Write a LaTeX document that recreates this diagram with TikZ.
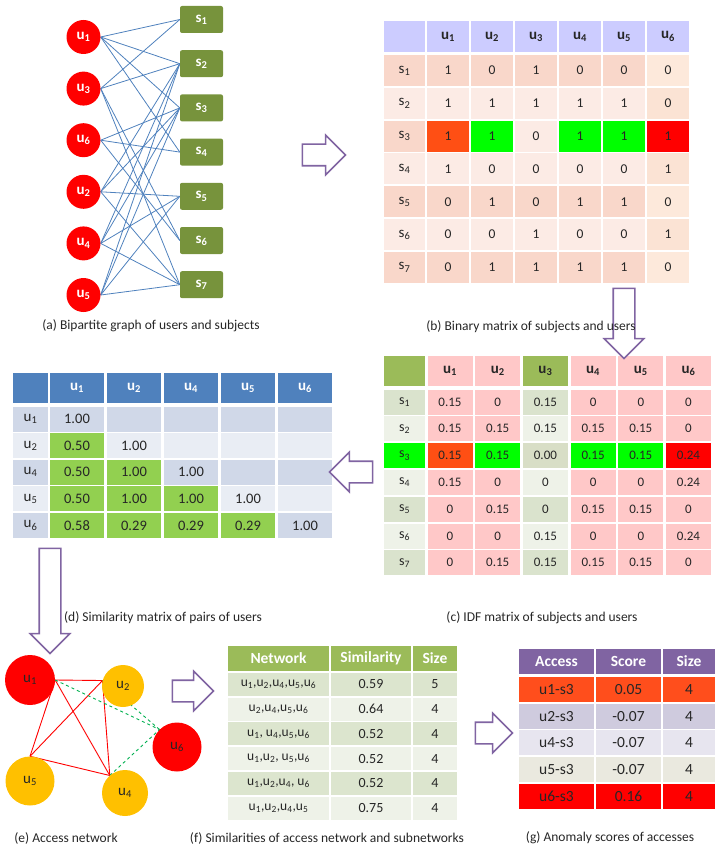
\documentclass[tikz,border=0pt]{standalone}
\usepackage{fontspec}
\setmainfont{Carlito}
\usepackage{xcolor}
\usepackage{tikz}
\usetikzlibrary{positioning, arrows.meta, shapes.arrows, backgrounds}
\definecolor{ink}{HTML}{262626}
\definecolor{ured}{HTML}{FF0000}
\definecolor{uorange}{HTML}{FFC000}
\definecolor{sgreen}{HTML}{77933C}
\definecolor{edgeblue}{HTML}{4F81BD}
\definecolor{dashgreen}{HTML}{00B050}
\definecolor{arrowpurple}{HTML}{8064A2}
\definecolor{binhead}{HTML}{CCCCFF}
\definecolor{binodd}{HTML}{F9D7CA}
\definecolor{bineven}{HTML}{FCEBE5}
\definecolor{binlastodd}{HTML}{FDE9DB}
\definecolor{binlasteven}{HTML}{FBE3D4}
\definecolor{hitorange}{HTML}{FF4F14}
\definecolor{hitgreen}{HTML}{00FF00}
\definecolor{hitred}{HTML}{FF0000}
\definecolor{idfpink}{HTML}{FFC8C8}
\definecolor{idfolive}{HTML}{9BBB59}
\definecolor{idfodd}{HTML}{DAE3CD}
\definecolor{idfeven}{HTML}{EEF2E8}
\definecolor{idfmid}{HTML}{D8DEC6}
\definecolor{simhead}{HTML}{4F81BD}
\definecolor{simodd}{HTML}{D0D8E8}
\definecolor{simeven}{HTML}{E9EDF4}
\definecolor{simgreen}{HTML}{92D050}
\definecolor{nethead}{HTML}{9BBB59}
\definecolor{netodd}{HTML}{DCE5CE}
\definecolor{neteven}{HTML}{EEF2E8}
\definecolor{acchead}{HTML}{8064A2}
\definecolor{accfirst}{HTML}{FF4E1C}
\definecolor{accsecond}{HTML}{CFCBDE}
\definecolor{accthird}{HTML}{E7E5EF}
\definecolor{accfourth}{HTML}{EAE9DF}
\definecolor{acclast}{HTML}{FF0000}
\newcommand{\usub}[1]{u\textsubscript{#1}}
\newcommand{\ssub}[1]{s\textsubscript{#1}}
\tikzset{
  user/.style     = {circle, fill=ured, text=white, minimum size=34pt, inner sep=0pt,
                     font=\fontsize{15}{15}\selectfont\bfseries},
  subj/.style     = {rectangle, rounded corners=2pt, fill=sgreen, text=white,
                     minimum width=43pt, minimum height=27pt, inner sep=0pt,
                     font=\fontsize{15}{15}\selectfont\bfseries},
  link/.style     = {draw=edgeblue, line width=0.8pt},
  tcell/.style    = {rectangle, inner sep=0pt, text=ink},
  bcell/.style    = {tcell, minimum width=42pt, minimum height=31pt, font=\fontsize{13.5}{13.5}\selectfont},
  bhead/.style    = {bcell, fill=binhead, font=\fontsize{15}{15}\selectfont\bfseries},
  ccell/.style    = {tcell, minimum width=45pt, minimum height=25pt, font=\fontsize{13}{13}\selectfont},
  chead/.style    = {ccell, minimum height=30pt, font=\fontsize{15}{15}\selectfont\bfseries},
  dcell/.style    = {tcell, minimum width=54pt, minimum height=25pt, font=\fontsize{14.5}{14.5}\selectfont},
  dhead/.style    = {dcell, fill=simhead, minimum height=30pt, text=white,
                     font=\fontsize{15}{15}\selectfont\bfseries},
  fcell/.style    = {tcell, minimum height=23pt, font=\fontsize{14}{14}\selectfont},
  fhead/.style    = {fcell, fill=nethead, minimum height=25pt, text=white,
                     font=\fontsize{15.5}{15.5}\selectfont\bfseries},
  gcell/.style    = {tcell, minimum height=25pt, font=\fontsize{15.5}{15.5}\selectfont},
  ghead/.style    = {gcell, fill=acchead, text=white, font=\fontsize{15.5}{15.5}\selectfont\bfseries},
  netnode/.style  = {circle, inner sep=0pt, text=ink, font=\fontsize{15}{15}\selectfont},
  rededge/.style  = {draw=ured, line width=0.9pt},
  dashedge/.style = {draw=dashgreen, line width=0.9pt, dashed},
  bigarrow/.style = {single arrow, draw=arrowpurple, line width=1.6pt, fill=white,
                     text height=20pt, text depth=0pt, minimum width=38pt,
                     single arrow head extend=9pt, inner sep=0pt},
  caption/.style  = {text=ink, font=\fontsize{13.5}{14}\selectfont},
}

\begin{document}
\begin{tikzpicture}[x=1pt, y=-1pt]
  \useasboundingbox (0,0) rectangle (721,861);

  % (a) users and subjects
  \foreach \u [count=\i] in {1,3,6,2,4,5}
    \node[user] (u\u) at (83.5,{37+51.6*(\i-1)}) {\usub{\u}};
  \foreach \s in {1,...,7}
    \node[subj] (s\s) at (201.5,{19.5+44.2*(\s-1)}) {\ssub{\s}};
  \begin{scope}[on background layer]
    \foreach \a/\b in {1/1,1/2,1/3,1/4,3/1,3/2,3/6,3/7,6/3,6/4,6/6,2/2,2/3,2/5,2/7,
                       4/2,4/3,4/5,4/7,5/2,5/3,5/5,5/7}
      \draw[link] (u\a.east) -- (s\b.west);
  \end{scope}
  \node[caption] (capA) at (151,326) {(a) Bipartite graph of users and subjects};

  % (b) binary matrix
  \node[bhead, minimum width=41pt] (b-0-0) at (404.5,36.5) {};
  \foreach \c in {1,...,6}
    \node[bhead] (b-0-\c) at ({448+44*(\c-1)},36.5) {\usub{\c}};
  \foreach \r/\lf/\vals in {
      1/binodd/{1/binodd,0/binodd,1/binodd,0/binodd,0/binodd,0/binlastodd},
      2/bineven/{1/bineven,1/bineven,1/bineven,1/bineven,1/bineven,0/binlasteven},
      3/binodd/{1/hitorange,1/hitgreen,0/bineven,1/hitgreen,1/hitgreen,1/hitred},
      4/bineven/{1/bineven,0/bineven,0/bineven,0/bineven,0/bineven,1/binlasteven},
      5/binodd/{0/binodd,1/binodd,0/binodd,1/binodd,1/binodd,0/binlastodd},
      6/bineven/{0/bineven,0/bineven,1/bineven,0/bineven,0/bineven,1/binlasteven},
      7/binodd/{0/binodd,1/binodd,1/binodd,1/binodd,1/binodd,0/binlastodd}}{
    \node[bcell, minimum width=41pt, fill=\lf, font=\fontsize{15}{15}\selectfont]
      (b-\r-0) at (404.5,{70.5+32.8*(\r-1)}) {\ssub{\r}};
    \foreach \v/\f [count=\c] in \vals
      \node[bcell, fill=\f] (b-\r-\c) at ({448+44*(\c-1)},{70.5+32.8*(\r-1)}) {\v};
  }

  % (c) idf matrix
  \node[chead, minimum width=41pt, fill=idfolive] (c-0-0) at (404.5,371) {};
  \foreach \c/\f in {1/idfpink,2/idfpink,3/idfolive,4/idfpink,5/idfpink,6/idfpink}
    \node[chead, fill=\f] (c-0-\c) at ({450+47.7*(\c-1)},371) {\usub{\c}};
  \foreach \r/\lf/\vals in {
      1/idfodd/{0.15/idfpink,0/idfpink,0.15/idfodd,0/idfpink,0/idfpink,0/idfpink},
      2/idfeven/{0.15/idfpink,0.15/idfpink,0.15/idfeven,0.15/idfpink,0.15/idfpink,0/idfpink},
      3/hitgreen/{0.15/hitorange,0.15/hitgreen,0.00/idfmid,0.15/hitgreen,0.15/hitgreen,0.24/hitred},
      4/idfeven/{0.15/idfpink,0/idfpink,0/idfeven,0/idfpink,0/idfpink,0.24/idfpink},
      5/idfodd/{0/idfpink,0.15/idfpink,0/idfodd,0.15/idfpink,0.15/idfpink,0/idfpink},
      6/idfeven/{0/idfpink,0/idfpink,0.15/idfeven,0/idfpink,0/idfpink,0.24/idfpink},
      7/idfodd/{0/idfpink,0.15/idfpink,0.15/idfodd,0.15/idfpink,0.15/idfpink,0/idfpink}}{
    \node[ccell, minimum width=41pt, fill=\lf, font=\fontsize{14}{14}\selectfont]
      (c-\r-0) at (404.5,{402+26.8*(\r-1)}) {\ssub{\r}};
    \foreach \v/\f [count=\c] in \vals
      \node[ccell, fill=\f] (c-\r-\c) at ({450+47.7*(\c-1)},{402+26.8*(\r-1)}) {\v};
  }
  \node[caption] (capC) at (542,618) {(c) IDF matrix of subjects and users};

  % (d) similarity matrix
  \node[dhead, minimum width=35pt] (d-0-0) at (30.5,388) {};
  \foreach \u [count=\c] in {1,2,4,5,6}
    \node[dhead] (d-0-\c) at ({77+57*(\c-1)},388) {\usub{\u}};
  \foreach \u/\lf/\vals [count=\r] in {
      1/simodd/{1.00/simodd,/simodd,/simodd,/simodd,/simodd},
      2/simeven/{0.50/simgreen,1.00/simeven,/simeven,/simeven,/simeven},
      4/simodd/{0.50/simgreen,1.00/simgreen,1.00/simodd,/simodd,/simodd},
      5/simeven/{0.50/simgreen,1.00/simgreen,1.00/simgreen,1.00/simeven,/simeven},
      6/simodd/{0.58/simgreen,0.29/simgreen,0.29/simgreen,0.29/simgreen,1.00/simodd}}{
    \node[dcell, minimum width=35pt, fill=\lf, font=\fontsize{15}{15}\selectfont]
      (d-\r-0) at (30.5,{419+26.6*(\r-1)}) {\usub{\u}};
    \foreach \v/\f [count=\c] in \vals
      \node[dcell, fill=\f] (d-\r-\c) at ({77+57*(\c-1)},{419+26.6*(\r-1)}) {\v};
  }
  \node[caption] (capD) at (163,618) {(d) Similarity matrix of pairs of users};

  % (e) access network
  \node[netnode, fill=ured, minimum size=50pt] (n1) at (30,680) {\usub{1}};
  \node[netnode, fill=uorange, minimum size=42pt] (n2) at (123,686) {\usub{2}};
  \node[netnode, fill=ured, minimum size=49pt] (n6) at (177,747) {\usub{6}};
  \node[netnode, fill=uorange, minimum size=49pt] (n5) at (30,781) {\usub{5}};
  \node[netnode, fill=uorange, minimum size=46pt] (n4) at (125,793) {\usub{4}};
  \begin{scope}[on background layer]
    \draw[rededge] (n1.east) -- (n2.165);
    \draw[rededge] (n1.east) -- (n5.north);
    \draw[rededge] (n1.east) -- (n4.131);
    \draw[rededge] (n2.165) -- (n5.north);
    \draw[rededge] (n2.165) -- (n4.131);
    \draw[rededge] (n5.north) -- (n4.131);
    \draw[dashedge] (n1.east) -- (n6.135);
    \draw[dashedge] (n2.165) -- (n6.135);
    \draw[dashedge] (n4.131) -- (n6.135);
  \end{scope}
  \node[caption] (capE) at (66,838) {(e) Access network};

  % (f) similarities of networks
  \node[fhead, minimum width=101pt] (f-0-1) at (278.5,658.5) {Network};
  \node[fhead, minimum width=80pt] (f-0-2) at (371,658.5) {Similarity};
  \node[fhead, minimum width=44pt] (f-0-3) at (435,658.5) {Size};
  \foreach \netw/\simv/\sizev/\rf [count=\r] in {
      {\usub{1},\usub{2},\usub{4},\usub{5},\usub{6}}/0.59/5/netodd,
      {\usub{2},\usub{4},\usub{5},\usub{6}}/0.64/4/neteven,
      {\usub{1}, \usub{4},\usub{5},\usub{6}}/0.52/4/netodd,
      {\usub{1},\usub{2}, \usub{5},\usub{6}}/0.52/4/neteven,
      {\usub{1},\usub{2},\usub{4}, \usub{6}}/0.52/4/netodd,
      {\usub{1},\usub{2},\usub{4},\usub{5}}/0.75/4/neteven}{
    \node[fcell, minimum width=101pt, fill=\rf, font=\fontsize{13.5}{13.5}\selectfont]
      (f-\r-1) at (278.5,{684.5+24.7*(\r-1)}) {\netw};
    \node[fcell, minimum width=80pt, fill=\rf] (f-\r-2) at (371,{684.5+24.7*(\r-1)}) {\simv};
    \node[fcell, minimum width=44pt, fill=\rf] (f-\r-3) at (435,{684.5+24.7*(\r-1)}) {\sizev};
  }
  \node[caption] (capF) at (327,838) {(f) Similarities of access network and subnetworks};

  % (g) anomaly scores
  \node[ghead, minimum width=75pt] (g-0-1) at (556.5,661.5) {Access};
  \node[ghead, minimum width=65pt] (g-0-2) at (628.5,661.5) {Score};
  \node[ghead, minimum width=52pt] (g-0-3) at (689,661.5) {Size};
  \foreach \acc/\score/\sizev/\rf [count=\r] in {
      u1-s3/0.05/4/accfirst, u2-s3/-0.07/4/accsecond, u4-s3/-0.07/4/accthird,
      u5-s3/-0.07/4/accfourth, u6-s3/0.16/4/acclast}{
    \node[gcell, minimum width=75pt, fill=\rf] (g-\r-1) at (556.5,{689.5+26.7*(\r-1)}) {\acc};
    \node[gcell, minimum width=65pt, fill=\rf] (g-\r-2) at (628.5,{689.5+26.7*(\r-1)}) {\score};
    \node[gcell, minimum width=52pt, fill=\rf] (g-\r-3) at (689,{689.5+26.7*(\r-1)}) {\sizev};
  }
  \node[caption] (capG) at (610,838) {(g) Anomaly scores of accesses};

  % block arrows between the steps
  \node[bigarrow, minimum height=43pt] (arrAB) at (318.5,155) {};
  \node[bigarrow, minimum height=70pt, rotate=-90] (arrBC) at (624,318) {};
  \node[bigarrow, minimum height=43pt, rotate=180] (arrCD) at (356.5,472) {};
  \node[bigarrow, minimum height=105pt, rotate=-90] (arrDE) at (50,595.5) {};
  \node[bigarrow, minimum height=41pt] (arrEF) at (187.5,691) {};
  \node[bigarrow, minimum height=37pt] (arrFG) at (488.5,733) {};

  % caption of (b) sits over the arrow shaft
  \node[caption] (capB) at (531,327) {(b) Binary matrix of subjects and users};

\end{tikzpicture}
\end{document}
